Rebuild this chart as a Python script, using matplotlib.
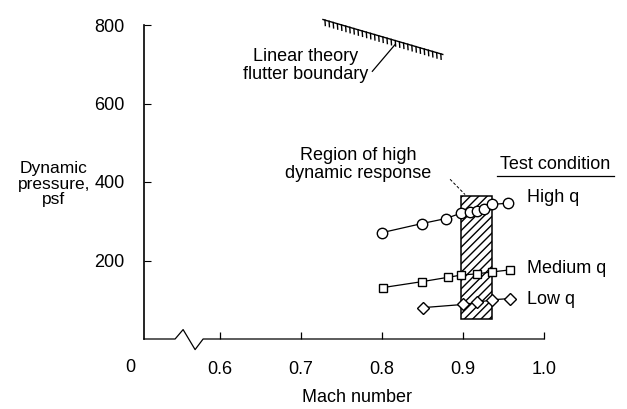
import matplotlib
matplotlib.use("Agg")
import matplotlib.pyplot as plt
import matplotlib.patheffects as pe
from matplotlib.patches import Rectangle
import numpy as np

plt.rcParams['font.family'] = ['Liberation Sans', 'DejaVu Sans']

# ---- data ----
high_mach = [0.800, 0.849, 0.879, 0.898, 0.909, 0.917, 0.926, 0.936, 0.956]
high_q    = [271, 294, 307, 321, 324, 327, 332, 343, 346]
med_mach  = [0.801, 0.849, 0.881, 0.898, 0.917, 0.936, 0.958]
med_q     = [131, 146, 157, 163, 166, 171, 176]
low_mach  = [0.851, 0.900, 0.917, 0.936, 0.958]
low_q     = [80, 88, 93, 100, 103]

region_mach = [0.898, 0.936]
region_q = [50, 365]

flutter_mach = [0.727, 0.875]
flutter_q = [814, 725]

x_ticks = [0.6, 0.7, 0.8, 0.9, 1.0]
x_ticklabels = ['0.6', '0.7', '0.8', '0.9', '1.0']
y_ticks = [200, 400, 600, 800]
y_ticklabels = ['200', '400', '600', '800']

FS = 13

W, H = 627, 409
fig = plt.figure(figsize=(W / 100, H / 100), dpi=100)
ax = fig.add_axes([144 / W, 1 - 339 / H, 400 / W, (339 - 25) / H])
ax.set_xlim(0.506, 1.0)
ax.set_ylim(0, 800)

for s in ['top', 'right', 'bottom']:
    ax.spines[s].set_visible(False)
ax.spines['left'].set_linewidth(1.2)

ax.set_xticks(x_ticks)
ax.set_xticklabels(x_ticklabels)
ax.set_yticks(y_ticks)
ax.set_yticklabels(y_ticklabels)
ax.tick_params(axis='both', direction='in', labelsize=FS)
ax.tick_params(axis='y', length=5, width=0.8, pad=14)
ax.tick_params(axis='x', length=5, width=0.9, pad=16)

# broken x axis with zigzag
bx = [0.506, 0.5444, 0.5543, 0.5691, 0.579, 1.0]
by = [0, 0, 24, -27, 0, 0]
ax.plot(bx, by, color='black', lw=0.9, clip_on=False)

# region of high dynamic response (hatched)
plt.rcParams['hatch.linewidth'] = 1.0
rect = Rectangle((region_mach[0], region_q[0]), region_mach[1] - region_mach[0],
                 region_q[1] - region_q[0], facecolor='white', edgecolor='black',
                 hatch='////', lw=1.1, zorder=2)
ax.add_patch(rect)

mk = dict(color='black', lw=0.9, markerfacecolor='white', markeredgecolor='black',
          markeredgewidth=1.0, zorder=3, clip_on=False)
ax.plot(high_mach, high_q, marker='o', markersize=7.5, **mk)
ax.plot(med_mach, med_q, marker='s', markersize=5.5, **mk)
ax.plot(low_mach, low_q, marker='D', markersize=6, **mk)

# flutter boundary
ax.plot(flutter_mach, flutter_q, color='black', lw=1.0, clip_on=False,
        path_effects=[pe.withTickedStroke(angle=-70, spacing=3.0, length=1.3)])
ax.plot([0.816, 0.788], [750, 682], color='black', lw=0.9)
ax.text(0.705, 697, 'Linear theory\nflutter boundary', ha='center', va='center',
        fontsize=FS, linespacing=1.1)

# region label
ax.text(0.770, 445, 'Region of high\ndynamic response', ha='center', va='center',
        fontsize=FS, linespacing=1.1)
ax.plot([0.884, 0.9025], [407, 368], color='black', lw=0.7, ls=(0, (3, 2)))

# test condition labels
ax.text(1.0136, 445, 'Test condition', ha='center', va='center', fontsize=FS, clip_on=False)
ax.plot([0.9425, 1.0868], [416, 416], color='black', lw=0.9, clip_on=False)
ax.text(0.979, 360, 'High q', ha='left', va='center', fontsize=FS, clip_on=False)
ax.text(0.979, 180, 'Medium q', ha='left', va='center', fontsize=FS, clip_on=False)
ax.text(0.979, 100, 'Low q', ha='left', va='center', fontsize=FS, clip_on=False)

# axis labels
fig.text(130 / W, 1 - 367 / H, '0', ha='center', va='center', fontsize=FS)
fig.text(357 / W, 1 - 397 / H, 'Mach number', ha='center', va='center', fontsize=FS)
fig.text(54 / W, 1 - 184 / H, 'Dynamic\npressure,\npsf', ha='center', va='center',
         fontsize=12.5, linespacing=1.05)

fig.savefig('out.png', dpi=100)
